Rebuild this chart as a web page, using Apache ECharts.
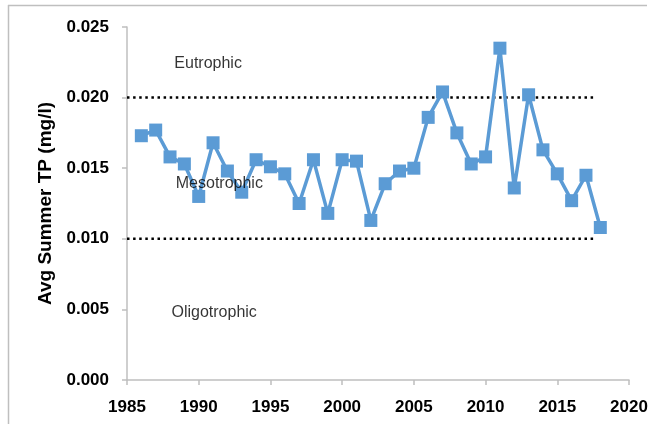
<!DOCTYPE html>
<html>
<head>
<meta charset="utf-8">
<script src="https://cdn.jsdelivr.net/npm/echarts@6/dist/echarts.min.js"></script>
<style>
  html, body { margin: 0; padding: 0; background: #fff; }
  #chart { width: 655px; height: 424px; }
</style>
</head>
<body>
<div id="chart"></div>
<script>
// yearly average summer total phosphorus (mg/l)
const years = [1986, 1987, 1988, 1989, 1990, 1991, 1992, 1993, 1994, 1995, 1996,
  1997, 1998, 1999, 2000, 2001, 2002, 2003, 2004, 2005, 2006, 2007, 2008, 2009,
  2010, 2011, 2012, 2013, 2014, 2015, 2016, 2017, 2018]
const tp = [0.0173, 0.0177, 0.0158, 0.0153, 0.0130, 0.0168, 0.0148, 0.0133, 0.0156,
  0.0151, 0.0146, 0.0125, 0.0156, 0.0118, 0.0156, 0.0155, 0.0113, 0.0139, 0.0148,
  0.0150, 0.0186, 0.0204, 0.0175, 0.0153, 0.0158, 0.0235, 0.0136, 0.0202, 0.0163,
  0.0146, 0.0127, 0.0145, 0.0108]

// trophic state thresholds (dotted lines)
const thresholdYears = [1985, 2017.5]
const eutrophicLimit = 0.020
const oligotrophicLimit = 0.010

// zone labels: [year, value, text]
const zoneLabels = [
  [1988.3, 0.0224, 'Eutrophic'],
  [1988.4, 0.0139, 'Mesotrophic'],
  [1988.1, 0.0048, 'Oligotrophic'],
]

const axisGrey = '#bfbfbf'
const boldFont = 'Liberation Sans'

const chart = echarts.init(document.getElementById('chart'), null, { renderer: 'canvas' })

const dotted = {
  color: '#000',
  width: 2.5,
  type: [2.5, 3.6],
}

chart.setOption({
  animation: false,
  backgroundColor: '#fff',
  grid: { left: 127, right: 26, top: 27, bottom: 44 },
  graphic: [
    { type: 'line', shape: { x1: 8, y1: 5.5, x2: 647, y2: 5.5 }, style: { stroke: axisGrey, lineWidth: 1.5 } },
    { type: 'line', shape: { x1: 8.5, y1: 5, x2: 8.5, y2: 424 }, style: { stroke: axisGrey, lineWidth: 1.5 } },
  ],
  xAxis: {
    type: 'value',
    min: 1985,
    max: 2020,
    interval: 5,
    axisLine: { lineStyle: { color: axisGrey, width: 1.5 } },
    axisTick: { show: true, length: 5, lineStyle: { color: axisGrey, width: 1.5 } },
    splitLine: { show: false },
    axisLabel: {
      margin: 19,
      color: '#000',
      fontFamily: boldFont,
      fontWeight: 'bold',
      fontSize: 17,
      formatter: (v) => String(v),
    },
  },
  yAxis: {
    type: 'value',
    min: 0,
    max: 0.025,
    interval: 0.005,
    name: 'Avg Summer TP (mg/l)',
    nameLocation: 'middle',
    nameGap: 72,
    nameTextStyle: {
      color: '#000',
      fontFamily: boldFont,
      fontWeight: 'bold',
      fontSize: 19,
    },
    axisLine: { show: true, lineStyle: { color: axisGrey, width: 1.5 } },
    axisTick: { show: true, length: 5, lineStyle: { color: axisGrey, width: 1.5 } },
    splitLine: { show: false },
    axisLabel: {
      margin: 18,
      color: '#000',
      fontFamily: boldFont,
      fontWeight: 'bold',
      fontSize: 17,
      formatter: (v) => v.toFixed(3),
    },
  },
  series: [
    {
      type: 'line',
      data: thresholdYears.map((y) => [y, eutrophicLimit]),
      symbol: 'none',
      lineStyle: dotted,
      z: 1,
    },
    {
      type: 'line',
      data: thresholdYears.map((y) => [y, oligotrophicLimit]),
      symbol: 'none',
      lineStyle: dotted,
      z: 1,
    },
    {
      type: 'line',
      data: years.map((y, i) => [y, tp[i]]),
      symbol: 'rect',
      symbolSize: 13,
      itemStyle: { color: '#5b9bd5' },
      lineStyle: { color: '#5b9bd5', width: 3.5 },
      z: 3,
    },
    {
      type: 'scatter',
      data: zoneLabels,
      symbolSize: 0,
      label: {
        show: true,
        position: 'right',
        distance: 0,
        formatter: (p) => p.data[2],
        color: '#000',
        fontFamily: 'Liberation Sans',
        fontSize: 16,
      },
      z: 4,
    },
  ],
})
</script>
</body>
</html>
